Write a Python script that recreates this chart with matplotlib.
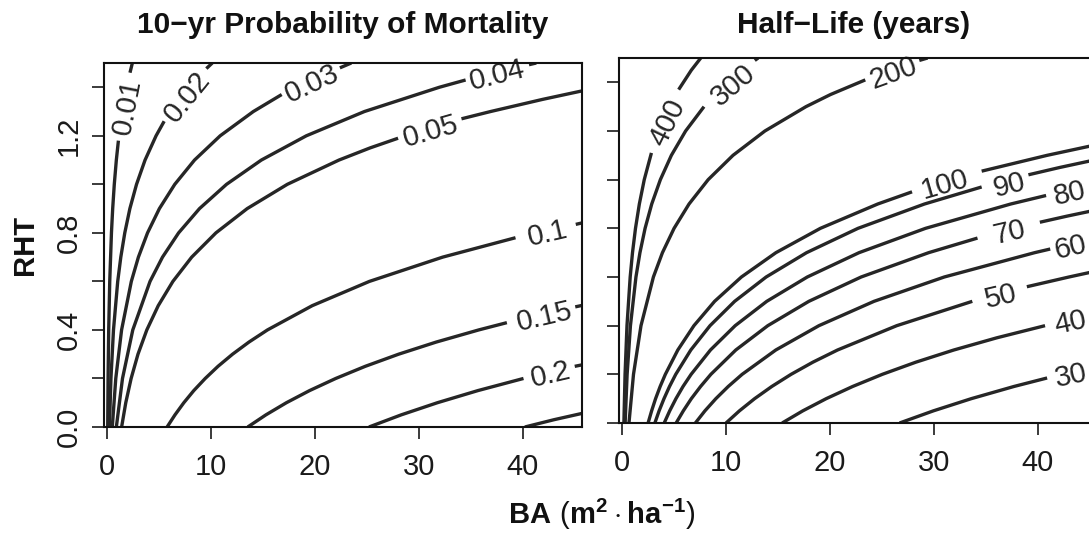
import numpy as np
import matplotlib
matplotlib.use("Agg")
import matplotlib.pyplot as plt

plt.rcParams['font.family'] = ['Liberation Sans', 'DejaVu Sans']
plt.rcParams['mathtext.fontset'] = 'custom'
plt.rcParams['mathtext.rm'] = 'Liberation Sans'
plt.rcParams['mathtext.bf'] = 'Liberation Sans:bold'

nan = np.nan

# ---------------- data: 10-yr probability of mortality contours (BA, RHT) ----------------
mort_levels = ["0.01", "0.02", "0.03", "0.04", "0.05", "0.1", "0.15", "0.2", ""]
mort_ba = [
    [0.056, 0.092, 0.152, 0.252, 0.417, 0.536, 0.69, 0.887, 1.086, nan, 2.20, 2.43],
    [0.221, 0.368, 0.613, 1.02, 1.317, 1.70, 2.19, 2.83, 3.65, 4.71, 5.49, nan, 9.55, 10.12],
    [0.498, 0.833, 1.392, 2.33, 3.01, 3.89, 5.03, 6.51, 8.41, 10.88, 14.07, 16.8, nan, 22.4, 23.5],
    [0.888, 1.48, 2.47, 4.13, 5.33, 6.88, 8.89, 11.49, 14.84, 19.17, 24.76, 31.97, 34.5, nan, 40.6, 41.3],
    [1.395, 1.795, 2.31, 2.97, 3.82, 4.92, 6.33, 8.14, 10.47, 13.48, 17.34, 22.31, 25.3, 28.0, nan,
     34.1, 36.9, 41.9, 45.7],
    [5.77, 6.53, 7.38, 8.34, 9.44, 10.67, 12.07, 13.65, 15.43, 19.74, 25.24, 32.29, 39.3, nan, 45.1, 45.7],
    [13.53, 15.28, 17.25, 19.48, 22.0, 24.84, 28.05, 31.67, 35.76, 38.47, nan, 45.05, 45.7],
    [25.2, 28.3, 31.78, 35.68, 40.07, nan, 45.0, 45.7],
    [40.2, 43.0, 45.7],
]
mort_rht = [
    [0.0, 0.2, 0.4, 0.6, 0.8, 0.9, 1.0, 1.1, 1.18, nan, 1.46, 1.5],
    [0.0, 0.2, 0.4, 0.6, 0.7, 0.8, 0.9, 1.0, 1.1, 1.2, 1.26, nan, 1.477, 1.5],
    [0.0, 0.2, 0.4, 0.6, 0.7, 0.8, 0.9, 1.0, 1.1, 1.2, 1.3, 1.37, nan, 1.48, 1.5],
    [0.0, 0.2, 0.4, 0.6, 0.7, 0.8, 0.9, 1.0, 1.1, 1.2, 1.3, 1.4, 1.43, nan, 1.493, 1.5],
    [0.0, 0.1, 0.2, 0.3, 0.4, 0.5, 0.6, 0.7, 0.8, 0.9, 1.0, 1.1, 1.15, 1.19, nan,
     1.27, 1.3, 1.35, 1.385],
    [0.0, 0.05, 0.1, 0.15, 0.2, 0.25, 0.3, 0.35, 0.4, 0.5, 0.6, 0.7, 0.78, nan, 0.835, 0.841],
    [0.0, 0.05, 0.1, 0.15, 0.2, 0.25, 0.3, 0.35, 0.4, 0.43, nan, 0.495, 0.501],
    [0.0, 0.05, 0.1, 0.15, 0.2, nan, 0.25, 0.256],
    [0.0, 0.03, 0.056],
]
# label placement (BA, RHT, angle in degrees)
mort_lab_ba = [1.64, 7.5, 19.6, 37.5, 31.06, 42.3, 42.0, 42.6, nan]
mort_lab_rht = [1.32, 1.368, 1.426, 1.462, 1.231, 0.81, 0.466, 0.226, nan]
mort_lab_ang = [79, 51, 25, 14, 16, 13, 13, 13, 0]

# ---------------- data: half-life (years) contours (BA, RHT) ----------------
hl_levels = ["400", "300", "200", "100", "90", "80", "70", "60", "50", "40", "30"]
hl_ba = [
    [0.17, 0.282, 0.468, 0.776, 0.999, 1.287, 1.658, 2.13, 2.82, nan, 5.44, 6.66, 7.57],
    [0.29, 0.482, 0.801, 1.331, 1.716, 2.21, 2.85, 3.68, 4.74, 6.11, 7.88, nan, 12.77, 13.09],
    [0.66, 1.095, 1.816, 3.01, 3.88, 5.0, 6.44, 8.28, 10.67, 13.74, 17.69, 20.06, 23.4, nan, 28.6, 29.4],
    [2.5, 2.84, 3.22, 3.66, 4.16, 5.36, 6.91, 8.90, 11.48, 14.8, 19.08, 24.6, 27.9, nan, 34.6, 40.9, 45.8],
    [3.15, 3.56, 4.03, 4.56, 5.16, 6.61, 8.46, 10.83, 13.86, 17.75, 22.7, 29.1, 34.6, nan, 39.1, 42.1, 45.8],
    [4.05, 4.58, 5.18, 5.86, 6.64, 8.50, 10.88, 13.92, 17.82, 22.8, 29.2, 37.4, 40.8],
    [5.2, 5.89, 6.66, 7.55, 8.54, 10.94, 14.02, 17.97, 23.0, 29.5, 34.2, nan, 40.2, 42.8, 45.8],
    [7.05, 7.97, 9.02, 10.21, 11.55, 14.79, 18.94, 24.24, 31.0, 39.7, 41.2],
    [10.0, 11.29, 12.75, 14.4, 16.26, 18.36, 20.73, 26.43, 33.7, nan, 38.95, 43.0, 45.8],
    [15.4, 17.39, 19.64, 22.18, 25.04, 28.27, 31.92, 36.05, 40.7],
    [26.7, 29.96, 33.6, 37.7, 40.9],
]
hl_rht = [
    [0.0, 0.2, 0.4, 0.6, 0.7, 0.8, 0.9, 1.0, 1.11, nan, 1.37, 1.45, 1.5],
    [0.0, 0.2, 0.4, 0.6, 0.7, 0.8, 0.9, 1.0, 1.1, 1.2, 1.3, nan, 1.49, 1.5],
    [0.0, 0.2, 0.4, 0.6, 0.7, 0.8, 0.9, 1.0, 1.1, 1.2, 1.3, 1.35, 1.41, nan, 1.49, 1.5],
    [0.0, 0.05, 0.1, 0.15, 0.2, 0.3, 0.4, 0.5, 0.6, 0.7, 0.8, 0.9, 0.95, nan, 1.035, 1.1, 1.145],
    [0.0, 0.05, 0.1, 0.15, 0.2, 0.3, 0.4, 0.5, 0.6, 0.7, 0.8, 0.9, 0.97, nan, 1.02, 1.05, 1.084],
    [0.0, 0.05, 0.1, 0.15, 0.2, 0.3, 0.4, 0.5, 0.6, 0.7, 0.8, 0.9, 0.935],
    [0.0, 0.05, 0.1, 0.15, 0.2, 0.3, 0.4, 0.5, 0.6, 0.7, 0.76, nan, 0.825, 0.85, 0.877],
    [0.0, 0.05, 0.1, 0.15, 0.2, 0.3, 0.4, 0.5, 0.6, 0.7, 0.715],
    [0.0, 0.05, 0.1, 0.15, 0.2, 0.25, 0.3, 0.4, 0.5, nan, 0.56, 0.6, 0.626],
    [0.0, 0.05, 0.1, 0.15, 0.2, 0.25, 0.3, 0.35, 0.4],
    [0.0, 0.05, 0.1, 0.15, 0.185],
]
hl_lab_ba = [4.1, 10.5, 26.0, 31.0, 37.2, 43.0, 37.2, 43.1, 36.4, 43.1, 43.1]
hl_lab_rht = [1.24, 1.396, 1.449, 0.99, 0.99, 0.956, 0.793, 0.732, 0.532, 0.423, 0.207]
hl_lab_ang = [64, 40, 20, 16, 14, 13, 13, 13, 13, 12, 12]

x_ticks = [0, 10, 20, 30, 40]
y_ticks = [0.0, 0.2, 0.4, 0.6, 0.8, 1.0, 1.2, 1.4]
y_ticklabels = ["0.0", "", "0.4", "", "0.8", "", "1.2", ""]

W, H = 1089, 533
fig = plt.figure(figsize=(W / 100, H / 100), dpi=100)


def px_axes(x0, y_top, w, h):
    return fig.add_axes([x0 / W, (H - y_top - h) / H, w / W, h / H])


ax1 = px_axes(104, 63, 478, 364)
ax2 = px_axes(619, 58, 478, 365)

LC = "#262626"
FS = 21


def draw(ax, bas, rhts, levels, lba, lrht, lang):
    for b, r in zip(bas, rhts):
        ax.plot(b, r, color=LC, lw=2.4, solid_capstyle="butt", solid_joinstyle="round")
    for lev, x, y, a in zip(levels, lba, lrht, lang):
        if not lev:
            continue
        ax.text(x, y, lev, rotation=a, rotation_mode="anchor", ha="center", va="center_baseline",
                fontsize=FS, color=LC, clip_on=False)
    ax.set_xlim(-0.3, 45.7)
    ax.set_ylim(0, 1.5)
    ax.set_xticks(x_ticks)
    ax.set_yticks(y_ticks)
    ax.tick_params(length=8.5, width=1.2, labelsize=FS, colors="#1a1a1a")
    ax.tick_params(axis="x", pad=10)
    ax.tick_params(axis="y", pad=7)
    for s in ax.spines.values():
        s.set_linewidth(1.5)
        s.set_color("#111111")
        s.set_zorder(5)


draw(ax1, mort_ba, mort_rht, mort_levels, mort_lab_ba, mort_lab_rht, mort_lab_ang)
draw(ax2, hl_ba, hl_rht, hl_levels, hl_lab_ba, hl_lab_rht, hl_lab_ang)

ax1.set_yticklabels(y_ticklabels, rotation=90, va="center")
ax2.set_yticklabels([])

fig.text(342.5 / W, 1 - 25 / H, "10\u2212yr Probability of Mortality", ha="center", va="center",
         fontsize=21.5, fontweight="bold", color="#111111")
fig.text(854 / W, 1 - 25 / H, "Half\u2212Life (years)", ha="center", va="center",
         fontsize=21.5, fontweight="bold", color="#111111")
fig.text(25 / W, 1 - 245 / H, "RHT", rotation=90, ha="center", va="center",
         fontsize=FS, fontweight="bold", color="#111111")
fig.text(602 / W, 1 - 514 / H,
         r"$\mathbf{BA}\ (\mathbf{m}^{\mathbf{2}}\cdot\mathbf{ha}^{\mathbf{-1}})$",
         ha="center", va="center", fontsize=FS, color="#111111")

fig.savefig("out.png", dpi=100)
